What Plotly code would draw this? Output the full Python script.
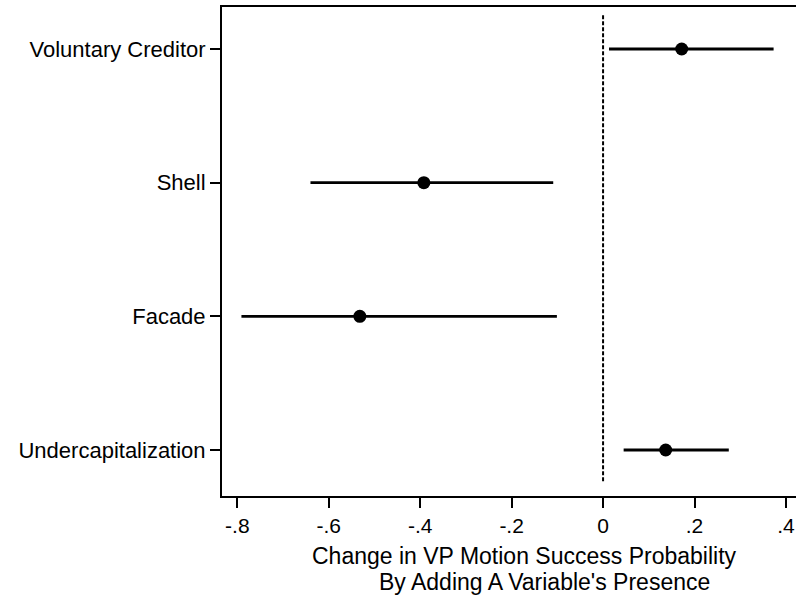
import plotly.graph_objects as go

categories = ["Voluntary Creditor", "Shell", "Facade", "Undercapitalization"]
estimates = [0.172, -0.392, -0.532, 0.137]
ci_low = [0.013, -0.640, -0.791, 0.045]
ci_high = [0.373, -0.109, -0.101, 0.275]
tick_vals = [-0.8, -0.6, -0.4, -0.2, 0, 0.2, 0.4]
tick_text = ["-.8", "-.6", "-.4", "-.2", "0", ".2", ".4"]
ypos = [3, 2, 1, 0]

FONT = "Liberation Sans, Arial, sans-serif"

fig = go.Figure()

for lo, hi, y in zip(ci_low, ci_high, ypos):
    fig.add_trace(go.Scatter(x=[lo, hi], y=[y, y], mode="lines",
                             line=dict(color="black", width=2.8),
                             showlegend=False, hoverinfo="skip"))

fig.add_trace(go.Scatter(x=estimates, y=ypos, mode="markers",
                         marker=dict(color="black", size=13),
                         showlegend=False))

fig.add_shape(type="line", xref="x", yref="paper", x0=0, x1=0, y0=0.03, y1=0.985,
              line=dict(color="black", width=2, dash="4px,2px"))

fig.update_layout(
    width=796, height=596,
    margin=dict(l=222, r=0, t=7, b=100),
    paper_bgcolor="white", plot_bgcolor="white",
    font=dict(family=FONT, size=22, color="black"),
    xaxis=dict(range=[-0.8335, 0.422], tickvals=tick_vals, ticktext=tick_text,
               showgrid=False, zeroline=False, showline=True, linecolor="black",
               linewidth=2, mirror=True, ticks="outside", ticklen=10, tickwidth=1.5,
               tickcolor="black", tickfont=dict(size=21)),
    yaxis=dict(range=[-0.344, 3.314], tickvals=ypos, ticktext=categories,
               showgrid=False, zeroline=False, showline=True, linecolor="black",
               linewidth=2, ticks="outside", ticklen=10, tickwidth=1.5,
               tickcolor="black", tickfont=dict(size=22)),
    annotations=[
        dict(text="Change in VP Motion Success Probability", xref="paper", yref="paper",
             x=0.5275, y=-0.1227, xanchor="center", yanchor="middle", showarrow=False,
             font=dict(size=23)),
        dict(text="By Adding A Variable's Presence", xref="paper", yref="paper",
             x=0.5627, y=-0.1759, xanchor="center", yanchor="middle", showarrow=False,
             font=dict(size=23)),
    ],
)

fig.write_html("out.html", config={"displayModeBar": False},
               post_script="document.body.style.margin='0';")
